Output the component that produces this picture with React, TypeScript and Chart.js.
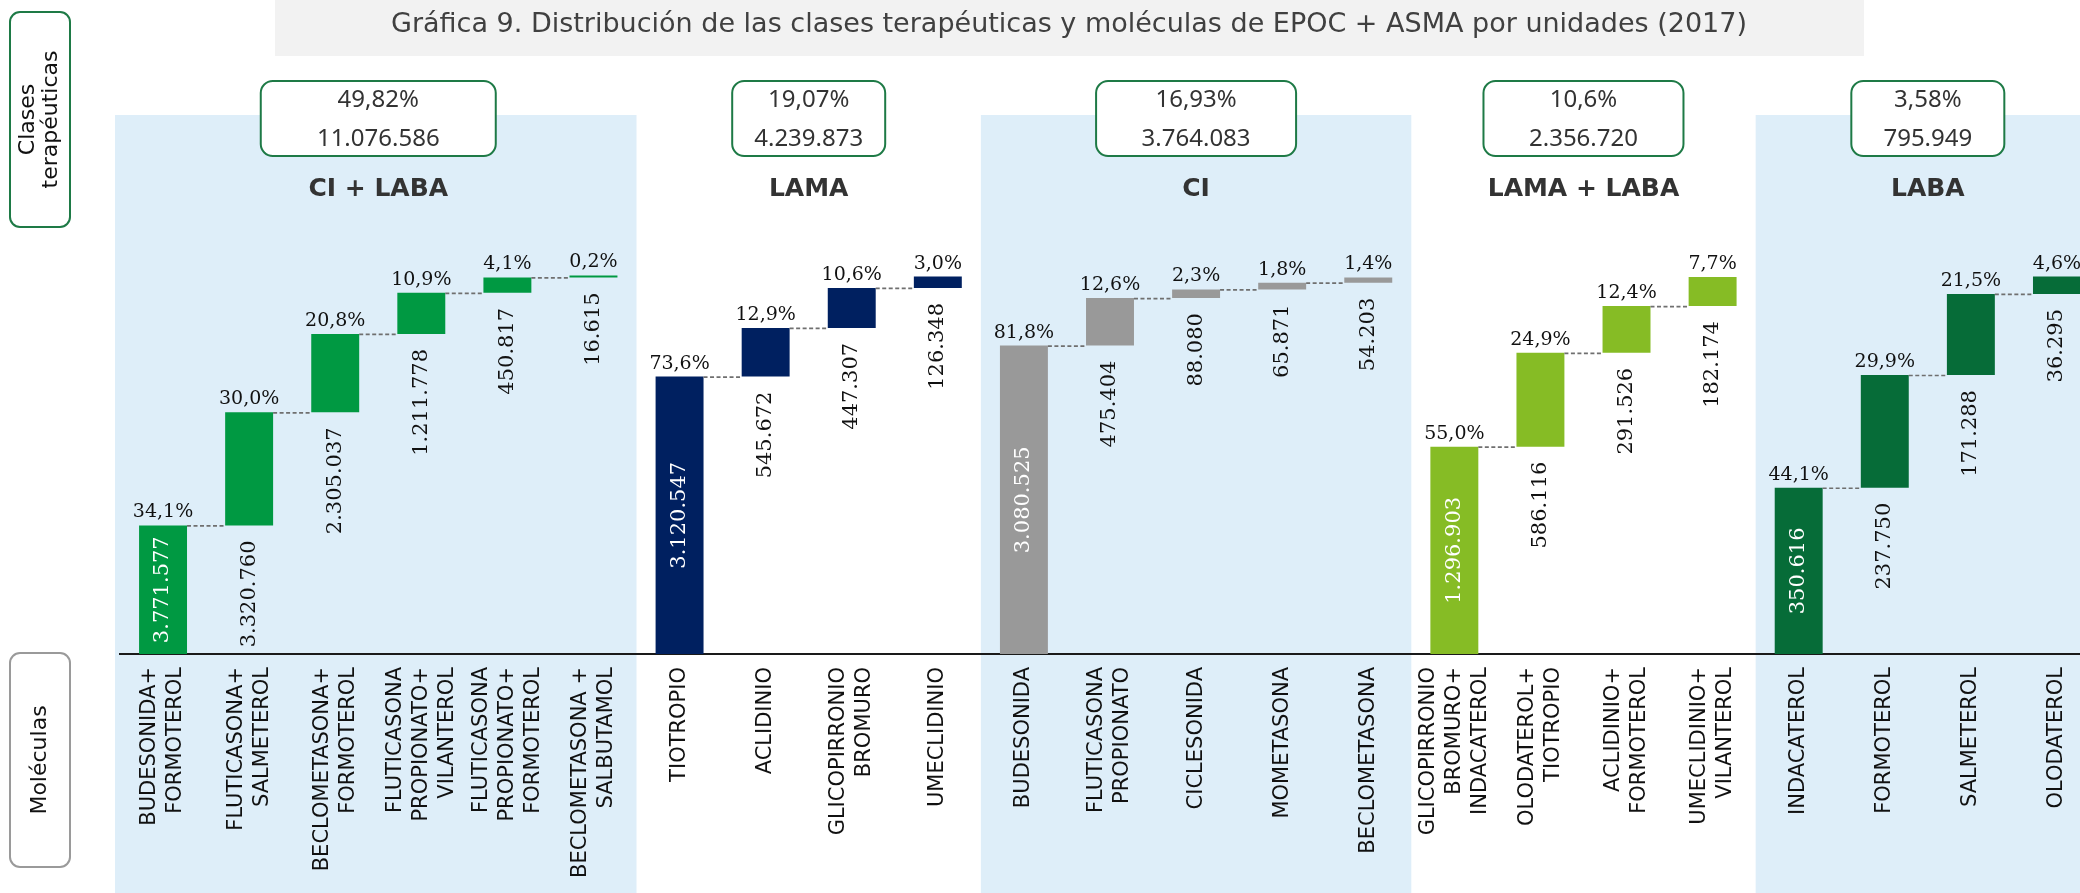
import React, { useEffect, useRef } from "react";
import { Chart, registerables } from "chart.js";

Chart.register(...registerables);

// ---------- DATA ----------
const TITLE =
  "Gráfica 9. Distribución de las clases terapéuticas y moléculas de EPOC + ASMA por unidades (2017)";
const LEFT_TOP_LABEL = ["Clases", "terapéuticas"];
const LEFT_BOTTOM_LABEL = ["Moléculas"];

const GROUP_NAMES = ["CI + LABA", "LAMA", "CI", "LAMA + LABA", "LABA"];
const GROUP_SHARE = [49.82, 19.07, 16.93, 10.6, 3.58];
const GROUP_TOTAL = [11076586, 4239873, 3764083, 2356720, 795949];
const GROUP_SIZES = [6, 4, 5, 4, 4];

const MOLECULES: string[][] = [
  ["BUDESONIDA+", "FORMOTEROL"],
  ["FLUTICASONA+", "SALMETEROL"],
  ["BECLOMETASONA+", "FORMOTEROL"],
  ["FLUTICASONA", "PROPIONATO+", "VILANTEROL"],
  ["FLUTICASONA", "PROPIONATO+", "FORMOTEROL"],
  ["BECLOMETASONA +", "SALBUTAMOL"],
  ["TIOTROPIO"],
  ["ACLIDINIO"],
  ["GLICOPIRRONIO", "BROMURO"],
  ["UMECLIDINIO"],
  ["BUDESONIDA"],
  ["FLUTICASONA", "PROPIONATO"],
  ["CICLESONIDA"],
  ["MOMETASONA"],
  ["BECLOMETASONA"],
  ["GLICOPIRRONIO", "BROMURO+", "INDACATEROL"],
  ["OLODATEROL+", "TIOTROPIO"],
  ["ACLIDINIO+", "FORMOTEROL"],
  ["UMECLIDINIO+", "VILANTEROL"],
  ["INDACATEROL"],
  ["FORMOTEROL"],
  ["SALMETEROL"],
  ["OLODATEROL"],
];

const MOLECULE_PCT = [
  34.1, 30.0, 20.8, 10.9, 4.1, 0.2,
  73.6, 12.9, 10.6, 3.0,
  81.8, 12.6, 2.3, 1.8, 1.4,
  55.0, 24.9, 12.4, 7.7,
  44.1, 29.9, 21.5, 4.6,
];

const MOLECULE_UNITS = [
  3771577, 3320760, 2305037, 1211778, 450817, 16615,
  3120547, 545672, 447307, 126348,
  3080525, 475404, 88080, 65871, 54203,
  1296903, 586116, 291526, 182174,
  350616, 237750, 171288, 36295,
];

// ---------- STYLE ----------
const GROUP_COLORS = ["#009942", "#002060", "#999999", "#86BC25", "#066C38"];
const GROUP_SHADED = [true, false, true, false, true];
const BOX_WIDTHS = [235, 153, 200, 200, 153];
const SHADE = "#DEEEF9";
const SANS = "'DejaVu Sans', Verdana, sans-serif";
const BOX_SANS = "'Noto Sans', 'DejaVu Sans', sans-serif";
const SERIF = "'DejaVu Serif', Georgia, serif";

// ---------- DERIVED ----------
const groupOf: number[] = [];
const firstInGroup: boolean[] = [];
const floating: [number, number][] = [];
{
  let idx = 0;
  GROUP_SIZES.forEach((n, g) => {
    let acc = 0;
    for (let k = 0; k < n; k++) {
      const v = MOLECULE_PCT[idx];
      floating.push([acc, acc + v]);
      acc += v;
      groupOf.push(g);
      firstInGroup.push(k === 0);
      idx++;
    }
  });
}
const barColors = groupOf.map((g) => GROUP_COLORS[g]);
const categoryKeys = MOLECULES.map((m) => m.join(" "));

const fmtInt = (n: number) => String(n).replace(/\B(?=(\d{3})+(?!\d))/g, ".");
const fmtPct1 = (v: number) => v.toFixed(1).replace(".", ",") + "%";
const fmtShare = (v: number) => String(v).replace(".", ",") + "%";

const decorPlugin = {
  id: "decor",
  beforeDraw(chart: any) {
    const ctx: CanvasRenderingContext2D = chart.ctx;
    const xs = chart.scales.x;
    const pitch = xs.getPixelForValue(1) - xs.getPixelForValue(0);
    ctx.save();
    ctx.fillStyle = "#ffffff";
    ctx.fillRect(0, 0, chart.width, chart.height);

    // group backgrounds
    let start = 0;
    GROUP_SIZES.forEach((n, g) => {
      const left = xs.getPixelForValue(start) - pitch / 2 - (g === 0 ? 5 : 0);
      const right = xs.getPixelForValue(start + n - 1) + pitch / 2;
      if (GROUP_SHADED[g]) {
        ctx.fillStyle = SHADE;
        ctx.fillRect(left, 115, right - left, chart.height - 115);
      }
      start += n;
    });
    // group headers
    start = 0;
    GROUP_SIZES.forEach((n, g) => {
      const left = xs.getPixelForValue(start) - pitch / 2;
      const right = xs.getPixelForValue(start + n - 1) + pitch / 2;
      const cx = (left + right) / 2;
      const w = BOX_WIDTHS[g];
      ctx.beginPath();
      (ctx as any).roundRect(cx - w / 2, 81, w, 75, 12);
      ctx.fillStyle = "#ffffff";
      ctx.fill();
      ctx.lineWidth = 2;
      ctx.strokeStyle = "#1E7A46";
      ctx.stroke();
      ctx.fillStyle = "#333333";
      ctx.font = `24px ${BOX_SANS}`;
      ctx.textAlign = "center";
      ctx.textBaseline = "middle";
      ctx.fillText(fmtShare(GROUP_SHARE[g]), cx, 100);
      ctx.fillText(fmtInt(GROUP_TOTAL[g]), cx, 139);
      ctx.font = `bold 25px ${SANS}`;
      ctx.fillText(GROUP_NAMES[g], cx, 189);
      start += n;
    });

    // title
    ctx.fillStyle = "#F2F2F2";
    ctx.fillRect(275, 0, 1589, 56);
    ctx.fillStyle = "#404040";
    ctx.font = `27px ${SANS}`;
    ctx.textAlign = "center";
    ctx.textBaseline = "middle";
    ctx.fillText(TITLE, 1069, 25);

    // left boxes
    const sideBox = (y: number, h: number, color: string, lines: string[]) => {
      ctx.beginPath();
      (ctx as any).roundRect(10, y, 60, h, 10);
      ctx.fillStyle = "#ffffff";
      ctx.fill();
      ctx.lineWidth = 2;
      ctx.strokeStyle = color;
      ctx.stroke();
      ctx.save();
      ctx.translate(40, y + h / 2);
      ctx.rotate(-Math.PI / 2);
      ctx.fillStyle = "#111111";
      ctx.font = `22px ${SANS}`;
      ctx.textAlign = "center";
      ctx.textBaseline = "middle";
      const lh = 23;
      lines.forEach((t, k) => {
        ctx.fillText(t, 0, (k - (lines.length - 1) / 2) * lh);
      });
      ctx.restore();
    };
    sideBox(12, 215, "#1E7A46", LEFT_TOP_LABEL);
    sideBox(653, 214, "#9A9A9A", LEFT_BOTTOM_LABEL);
    ctx.restore();
  },
  afterDatasetsDraw(chart: any) {
    const ctx: CanvasRenderingContext2D = chart.ctx;
    const meta = chart.getDatasetMeta(0);
    const xs = chart.scales.x;
    ctx.save();
    const bars = meta.data.map((el: any) => {
      const p = el.getProps(["x", "y", "base", "width"], true);
      return {
        x: p.x,
        w: p.width,
        top: Math.min(p.y, p.base),
        bottom: Math.max(p.y, p.base),
      };
    });

    // connectors
    ctx.strokeStyle = "#6F6F6F";
    ctx.lineWidth = 1.7;
    ctx.setLineDash([4, 2.5]);
    for (let i = 0; i < bars.length - 1; i++) {
      if (groupOf[i] !== groupOf[i + 1]) continue;
      const y = bars[i].top + 0.5;
      ctx.beginPath();
      ctx.moveTo(bars[i].x + bars[i].w / 2, y);
      ctx.lineTo(bars[i + 1].x - bars[i + 1].w / 2, y);
      ctx.stroke();
    }
    ctx.setLineDash([]);

    // percent labels
    ctx.fillStyle = "#111111";
    ctx.font = `19px ${SERIF}`;
    ctx.textAlign = "center";
    ctx.textBaseline = "alphabetic";
    bars.forEach((b: any, i: number) => {
      ctx.fillText(fmtPct1(MOLECULE_PCT[i]), b.x, b.top - 8);
    });

    // value labels
    ctx.font = `21px ${SERIF}`;
    bars.forEach((b: any, i: number) => {
      ctx.save();
      if (firstInGroup[i]) {
        ctx.fillStyle = "#ffffff";
        ctx.translate(b.x, (b.top + b.bottom) / 2);
        ctx.rotate(-Math.PI / 2);
        ctx.textAlign = "center";
      } else {
        ctx.fillStyle = "#111111";
        ctx.translate(b.x, b.bottom + 15);
        ctx.rotate(-Math.PI / 2);
        ctx.textAlign = "right";
      }
      ctx.textBaseline = "middle";
      ctx.fillText(fmtInt(MOLECULE_UNITS[i]), 0, 0);
      ctx.restore();
    });

    // category labels (vertical, block centred on the category)
    ctx.fillStyle = "#111111";
    ctx.font = `21px ${SANS}`;
    const lh = 26;
    const top = chart.chartArea.bottom + 13;
    MOLECULES.forEach((lines, i) => {
      const cx = xs.getPixelForValue(i);
      ctx.save();
      ctx.translate(cx, top);
      ctx.rotate(-Math.PI / 2);
      ctx.textAlign = "right";
      ctx.textBaseline = "middle";
      lines.forEach((t, k) => {
        ctx.fillText(t, 0, (k - (lines.length - 1) / 2) * lh);
      });
      ctx.restore();
    });
    ctx.restore();
  },
};

export default function App() {
  const canvasRef = useRef<HTMLCanvasElement | null>(null);

  useEffect(() => {
    const canvas = canvasRef.current;
    if (!canvas) return;
    const chart = new Chart(canvas, {
      type: "bar",
      data: {
        labels: categoryKeys,
        datasets: [
          {
            data: floating as any,
            backgroundColor: barColors,
            borderWidth: 0,
            barPercentage: 0.557,
            categoryPercentage: 1,
            minBarLength: 2,
            clip: false as any,
          },
        ],
      },
      options: {
        responsive: false,
        devicePixelRatio: 1,
        animation: false,
        layout: { padding: { top: 277, left: 120, right: 10, bottom: 0 } },
        plugins: {
          legend: { display: false },
          tooltip: { enabled: false },
          title: { display: false },
        },
        scales: {
          x: {
            grid: { display: false, drawTicks: false },
            border: { display: true, color: "#1a1a1a", width: 2 },
            ticks: { display: false },
            afterFit: (s: any) => {
              s.height = 239;
            },
          },
          y: { display: false, min: 0, max: 100 },
        },
      },
      plugins: [decorPlugin],
    });
    return () => chart.destroy();
  }, []);

  return (
    <div
      style={{
        position: "absolute",
        left: 0,
        top: 0,
        width: 2080,
        height: 893,
        overflow: "hidden",
        background: "#ffffff",
      }}
    >
      <canvas
        ref={canvasRef}
        width={2110}
        height={893}
        style={{ width: 2110, height: 893, display: "block" }}
      />
    </div>
  );
}
